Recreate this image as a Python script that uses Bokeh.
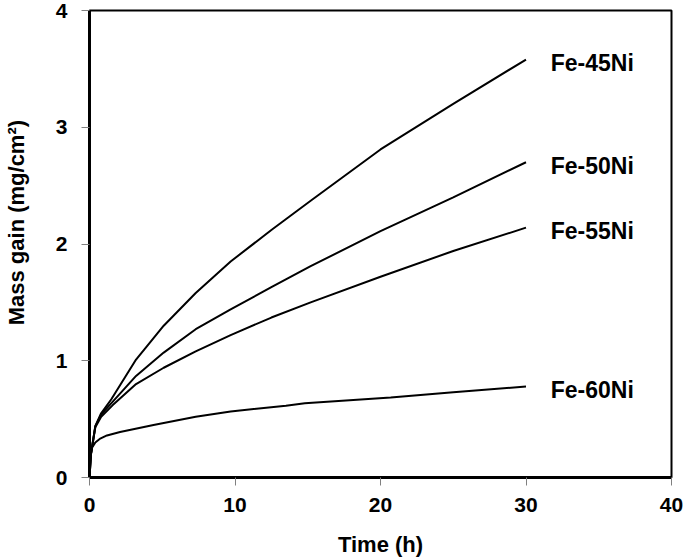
from bokeh.plotting import figure
from bokeh.models import Range1d, FixedTicker, ColumnDataSource
from bokeh.core.properties import value
from bokeh.embed import file_html
from bokeh.resources import INLINE

# Data
t_45 = [0, 0.1, 0.4, 0.8, 1.5, 3.2, 5.1, 7.3, 9.7, 12.5, 15.2, 20.0, 25.0, 30.0]
m_45 = [0, 0.20, 0.44, 0.55, 0.67, 1.01, 1.30, 1.58, 1.85, 2.12, 2.37, 2.81, 3.20, 3.58]

t_50 = [0, 0.1, 0.4, 0.8, 1.6, 3.2, 5.1, 7.3, 9.7, 12.5, 15.2, 20.0, 25.0, 30.0]
m_50 = [0, 0.20, 0.44, 0.54, 0.65, 0.87, 1.07, 1.27, 1.44, 1.63, 1.81, 2.11, 2.40, 2.70]

t_55 = [0, 0.1, 0.4, 0.8, 1.6, 3.2, 5.1, 7.3, 9.7, 12.5, 15.2, 20.0, 25.0, 30.0]
m_55 = [0, 0.20, 0.43, 0.52, 0.62, 0.80, 0.94, 1.08, 1.22, 1.37, 1.50, 1.72, 1.94, 2.14]

t_60 = [0, 0.05, 0.15, 0.4, 0.7, 1.2, 2.1, 4.4, 7.3, 9.7, 13.5, 14.8, 20.7, 25.0, 30.0]
m_60 = [0, 0.15, 0.25, 0.30, 0.33, 0.36, 0.39, 0.45, 0.52, 0.565, 0.615, 0.635, 0.685, 0.73, 0.78]

series_names = ["Fe-45Ni", "Fe-50Ni", "Fe-55Ni", "Fe-60Ni"]
x_ticks = [0, 10, 20, 30, 40]
y_ticks = [0, 1, 2, 3, 4]

FONT = "Liberation Sans"

p = figure(width=685, height=559, output_backend="svg", toolbar_location=None,
           x_range=Range1d(0, 40), y_range=Range1d(0, 4),
           min_border_left=88, min_border_right=14, min_border_top=10, min_border_bottom=80)

p.xgrid.visible = False
p.ygrid.visible = False
p.outline_line_color = "black"
p.outline_line_width = 2
p.background_fill_color = "white"
p.border_fill_color = "white"

for ax in (p.xaxis[0], p.yaxis[0]):
    ax.axis_line_width = 3
    ax.axis_line_color = "black"
    ax.major_tick_in = 0
    ax.major_tick_out = 8
    ax.major_tick_line_color = "#808080"
    ax.major_tick_line_width = 1
    ax.minor_tick_line_color = None
    ax.major_label_text_font = FONT
    ax.major_label_text_font_style = "bold"
    ax.major_label_text_font_size = "21px"
    ax.major_label_text_color = "black"
    ax.axis_label_text_font = FONT
    ax.axis_label_text_font_style = "bold"
    ax.axis_label_text_font_size = "22px"
    ax.axis_label_text_color = "black"

p.xaxis.ticker = FixedTicker(ticks=x_ticks)
p.yaxis.ticker = FixedTicker(ticks=y_ticks)
p.xaxis.axis_label = "Time (h)"
p.yaxis.axis_label = "\u00a0" * 7 + "Mass gain (mg/cm²)"
p.xaxis.major_label_standoff = 12
p.xaxis.axis_label_standoff = 17
p.yaxis.major_label_standoff = 14
p.yaxis.axis_label_standoff = 24

all_t = [t_45, t_50, t_55, t_60]
all_m = [m_45, m_50, m_55, m_60]
for t, m in zip(all_t, all_m):
    p.line(t, m, line_color="black", line_width=2)

label_src = ColumnDataSource(dict(
    x=[31.7] * len(series_names),
    y=[m[-1] - 0.03 for m in all_m],
    text=series_names,
))
p.text(x="x", y="y", text="text", source=label_src,
       text_font=value(FONT), text_font_style="bold", text_font_size="23px",
       text_baseline="middle", text_align="left", text_color="black")

open("out.html", "w").write(file_html(p, INLINE))
